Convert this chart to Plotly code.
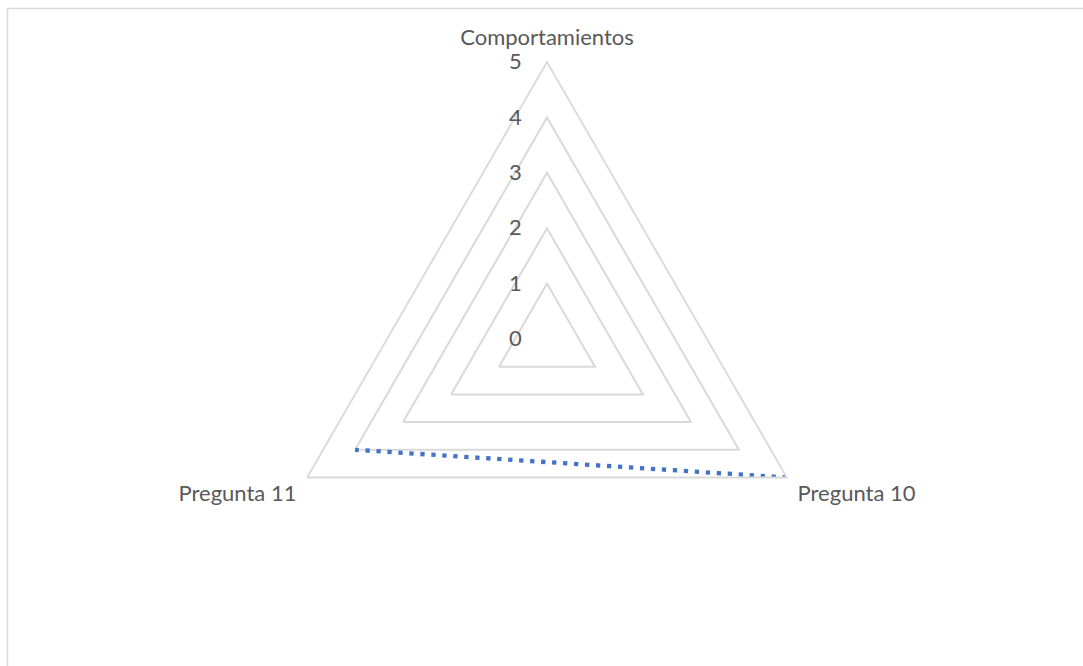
import plotly.graph_objects as go

categories = ["Comportamientos", "Pregunta 10", "Pregunta 11"]
values = [None, 5, 4]
radial_ticks = [0, 1, 2, 3, 4, 5]

W, H = 1083, 666
cx, cy, R = 547, 339, 277

fig = go.Figure()
fig.add_trace(go.Scatterpolar(
    r=values,
    theta=categories,
    mode="lines",
    line=dict(color="#4472C4", width=4.3, dash="4.3px,6.7px"),
    connectgaps=False,
    showlegend=False,
    hoverinfo="skip",
))

font = dict(family="Lato, Open Sans, sans-serif", size=22, color="#595959")

fig.update_layout(
    width=W, height=H,
    margin=dict(l=0, r=0, t=0, b=0),
    paper_bgcolor="white",
    plot_bgcolor="white",
    polar=dict(
        domain=dict(x=[(cx - R) / W, (cx + R) / W], y=[1 - (cy + R) / H, 1 - (cy - R) / H]),
        bgcolor="rgba(0,0,0,0)",
        gridshape="linear",
        radialaxis=dict(
            range=[0, 5],
            tickvals=radial_ticks,
            angle=90,
            tickangle=90,
            side="counterclockwise",
            showline=False,
            ticks="outside",
            ticklen=17,
            tickcolor="rgba(0,0,0,0)",
            gridcolor="#D9D9D9",
            gridwidth=1.8,
            tickfont=font,
        ),
        angularaxis=dict(
            direction="clockwise",
            rotation=90,
            showgrid=False,
            showline=True,
            linecolor="#D9D9D9",
            linewidth=1.8,
            ticks="outside",
            ticklen=7,
            tickcolor="rgba(0,0,0,0)",
            tickfont=font,
        ),
    ),
    shapes=[
        dict(type="line", xref="paper", yref="paper", x0=7.5 / W, x1=1.05,
             y0=1 - 8.5 / H, y1=1 - 8.5 / H, line=dict(color="#D9D9D9", width=1.5)),
        dict(type="line", xref="paper", yref="paper", x0=7.5 / W, x1=7.5 / W,
             y0=1 - 8.5 / H, y1=-0.05, line=dict(color="#D9D9D9", width=1.5)),
    ],
)

fig.write_html("out.html")
